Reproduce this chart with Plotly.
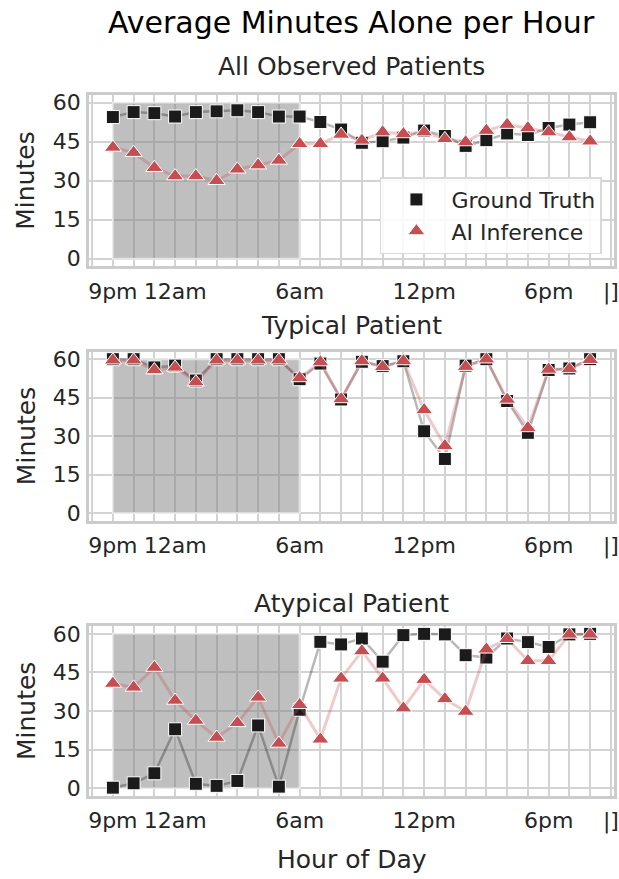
import plotly.graph_objects as go

# ---------------- data ----------------
hours = list(range(24))  # 0 = 9pm ... 23 = 8pm
tick_vals = [-1, 0, 1, 2, 3, 4, 5, 6, 7, 8, 9, 10, 11, 12, 13, 14, 15, 16, 17, 18, 19, 20, 21, 22, 23, 24]
tick_text = ["", "9pm", "", "", "12am", "", "", "", "", "", "6am", "", "", "", "", "", "12pm", "", "", "", "", "", "6pm", "", "", "|]"]
y_ticks = [0, 15, 30, 45, 60]

all_gt = [54.5, 56.4, 56.0, 54.7, 56.4, 56.7, 57.1, 56.4, 54.7, 54.7,
          52.6, 49.7, 44.6, 45.2, 46.6, 49.3, 47.2, 43.4, 45.6, 48.2,
          47.6, 50.3, 51.6, 52.5]
all_ai = [42.8, 40.8, 35.0, 31.8, 31.8, 30.0, 34.4, 36.0, 37.8, 44.2,
          44.2, 47.8, 45.5, 48.7, 48.0, 48.7, 46.1, 44.9, 49.3, 51.6,
          50.3, 48.7, 46.8, 45.2]

typ_gt = [60.0, 60.0, 56.8, 57.5, 51.7, 60.0, 60.0, 60.0, 60.0, 52.2,
          58.3, 44.3, 59.0, 57.3, 59.2, 31.9, 21.1, 57.5, 60.0, 43.7,
          31.3, 55.8, 56.4, 60.0]
typ_ai = [59.6, 59.6, 55.8, 56.8, 51.1, 59.6, 59.6, 59.6, 59.6, 52.7,
          58.9, 44.5, 59.3, 57.0, 59.3, 40.2, 26.2, 57.1, 60.0, 44.3,
          33.2, 56.0, 56.2, 59.8]

atyp_gt = [0.2, 1.9, 5.8, 22.9, 1.7, 0.9, 2.8, 24.4, 0.6, 30.5,
           56.9, 55.9, 58.2, 49.2, 59.5, 60.0, 59.8, 51.7, 50.8, 58.2,
           56.8, 54.9, 59.8, 60.0]
atyp_ai = [40.7, 39.2, 46.9, 34.1, 26.3, 19.7, 25.4, 35.3, 17.4, 32.4,
           19.0, 42.7, 53.3, 42.7, 31.1, 42.2, 34.7, 29.8, 54.0, 58.1,
           49.5, 49.5, 59.8, 59.8]

night_span = [0, 9]   # shaded night hours (9pm -> 6am)
night_y = [0, 60]

panels = [("All Observed Patients", all_gt, all_ai),
          ("Typical Patient", typ_gt, typ_ai),
          ("Atypical Patient", atyp_gt, atyp_ai)]

# ---------------- layout helpers ----------------
H = 879
def py(px):
    return 1 - px / H

domains = [[py(264.5), py(91)], [py(521.7), py(350.5)], [py(800), py(628.3)]]
title_y = [py(62), py(324), py(605)]

FONT = "DejaVu Sans"
TXT = "#262626"
GT_COLOR = "#1b1b1b"
AI_COLOR = "#c44e52"

fig = go.Figure()

for i, (name, gt, ai) in enumerate(panels):
    xa = "x" if i == 0 else f"x{i+1}"
    ya = "y" if i == 0 else f"y{i+1}"
    fig.add_trace(go.Scatter(x=hours, y=gt, mode="lines", xaxis=xa, yaxis=ya,
                             line=dict(color="rgba(0,0,0,0.28)", width=2.5),
                             showlegend=False, hoverinfo="skip"))
    fig.add_trace(go.Scatter(x=hours, y=gt, mode="markers", xaxis=xa, yaxis=ya,
                             name="Ground Truth",
                             marker=dict(symbol="square", size=13, color=GT_COLOR,
                                         line=dict(color="white", width=1)),
                             showlegend=(i == 0)))
    fig.add_trace(go.Scatter(x=hours, y=ai, mode="lines", xaxis=xa, yaxis=ya,
                             line=dict(color="rgba(196,78,82,0.3)", width=3),
                             showlegend=False, hoverinfo="skip"))
    fig.add_trace(go.Scatter(x=hours, y=ai, mode="markers", xaxis=xa, yaxis=ya,
                             name="AI Inference",
                             marker=dict(symbol="triangle-up", size=15, color=AI_COLOR,
                                         line=dict(color="white", width=1)),
                             showlegend=(i == 0)))
    fig.add_shape(type="rect", xref=xa, yref=ya,
                  x0=night_span[0], x1=night_span[1], y0=night_y[0], y1=night_y[1],
                  fillcolor="rgba(128,128,128,0.5)",
                  line=dict(color="rgba(255,255,255,0.6)", width=2),
                  layer="between")

    axis_common = dict(showline=True, mirror=True, linecolor="#cccccc", linewidth=2.5,
                       showgrid=True, gridcolor="#d3d3d3", gridwidth=1.6,
                       zeroline=False, tickfont=dict(family=FONT, size=22, color=TXT))
    fig.layout[("xaxis" if i == 0 else f"xaxis{i+1}")] = dict(
        axis_common, domain=[0, 1], anchor=ya, range=[-1.15, 24.15],
        tickmode="array", tickvals=tick_vals, ticktext=tick_text,
        ticks="outside", ticklen=3, tickcolor="rgba(0,0,0,0)",
        ticklabeloverflow="allow")
    fig.layout[("yaxis" if i == 0 else f"yaxis{i+1}")] = dict(
        axis_common, domain=domains[i], anchor=xa, range=[-3, 63],
        tickmode="array", tickvals=y_ticks,
        ticks="outside", ticklen=1, tickcolor="rgba(0,0,0,0)")

    fig.add_annotation(text=name, x=0.5, y=title_y[i], xref="paper", yref="paper",
                       xanchor="center", yanchor="middle", showarrow=False,
                       font=dict(family=FONT, size=25, color=TXT))
    ymid = (domains[i][0] + domains[i][1]) / 2
    fig.add_annotation(text="Minutes", x=-0.12, y=ymid, xref="paper", yref="paper",
                       xanchor="center", yanchor="middle", showarrow=False, textangle=-90,
                       font=dict(family=FONT, size=25, color=TXT))

fig.add_annotation(text="Average Minutes Alone per Hour", x=0.5, y=py(18),
                   xref="paper", yref="paper", xanchor="center", yanchor="middle",
                   showarrow=False, font=dict(family=FONT, size=30, color="black"))
fig.add_annotation(text="Hour of Day", x=0.5, y=py(864),
                   xref="paper", yref="paper", xanchor="center", yanchor="middle",
                   showarrow=False, font=dict(family=FONT, size=25, color=TXT))

fig.update_layout(
    width=619, height=879,
    margin=dict(l=89, r=4, t=0, b=0),
    plot_bgcolor="white", paper_bgcolor="white",
    legend=dict(x=0.977, y=py(252), xanchor="right", yanchor="bottom",
                bgcolor="rgba(255,255,255,0.85)", bordercolor="#d9d9d9", borderwidth=1.5,
                font=dict(family=FONT, size=22, color=TXT),
                itemwidth=60, itemsizing="trace"),
    font=dict(family=FONT, color=TXT),
)

fig.write_html("out.html")
